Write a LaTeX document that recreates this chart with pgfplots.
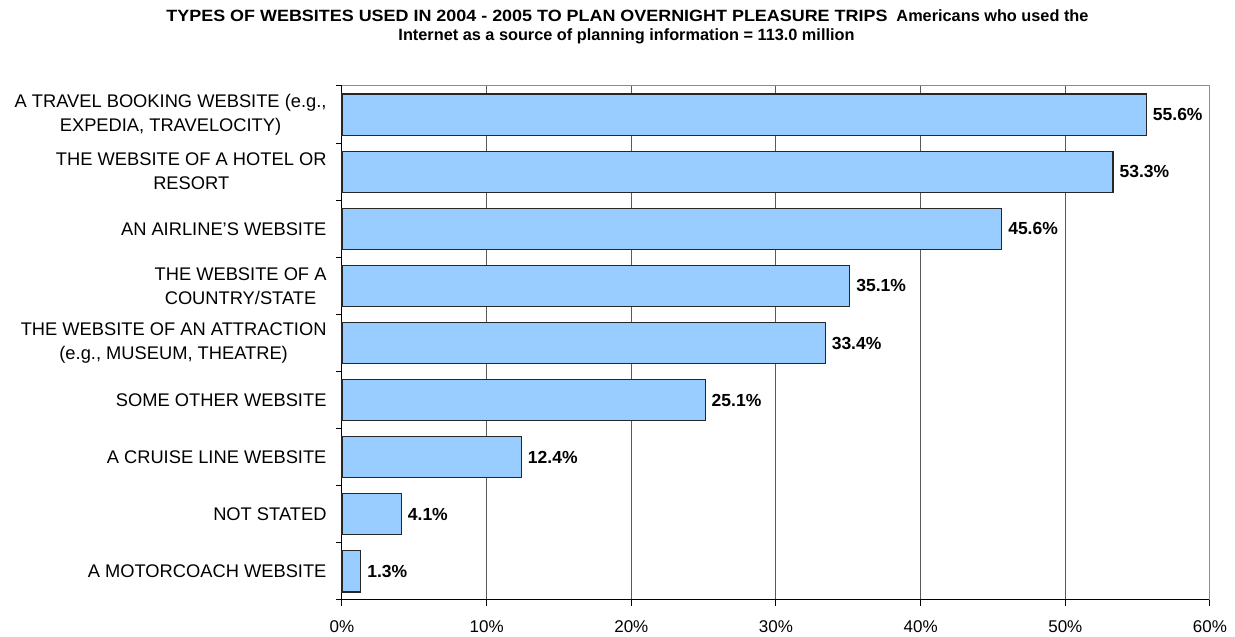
\documentclass[border=0pt]{standalone}
\usepackage{fontspec}
\setmainfont{Liberation Sans}
\newfontfamily\titlefont[FakeStretch=1.1]{Liberation Sans}
\usepackage{pgfplots}
\pgfplotsset{compat=1.18}
\definecolor{barblue}{HTML}{99CCFF}
\definecolor{gridgray}{HTML}{5A5A5A}
\definecolor{framegray}{HTML}{8C8C8C}

\begin{document}
\begin{tikzpicture}
\path[use as bounding box] (-342pt,-37pt) rectangle (893pt,600pt);
\begin{axis}[
  at={(0pt,0pt)}, anchor=south west,
  scale only axis, width=868pt, height=514pt,
  xbar, bar width=0.72,
  xmin=0, xmax=60, ymin=-0.5, ymax=8.5,
  axis lines*=left,
  axis line style={black, line width=1pt},
  xtick={0,10,...,60},
  xticklabels={0\%,10\%,20\%,30\%,40\%,50\%,60\%},
  ytick={-0.5,0.5,...,8.5},
  yticklabels={
    {A MOTORCOACH WEBSITE},
    {NOT STATED},
    {A CRUISE LINE WEBSITE},
    {SOME OTHER WEBSITE},
    {THE WEBSITE OF AN ATTRACTION\\(e.g., MUSEUM, THEATRE)},
    {THE WEBSITE OF A\\COUNTRY/STATE},
    {AN AIRLINE'S WEBSITE},
    {THE WEBSITE OF A HOTEL OR\\RESORT},
    {A TRAVEL BOOKING WEBSITE (e.g.,\\EXPEDIA, TRAVELOCITY)},
    {}},
  tick align=outside,
  major tick length=6pt,
  tick style={black, line width=1pt},
  xmajorgrids,
  grid style={gridgray, line width=1pt},
  xticklabel style={font=\fontsize{17}{20}\selectfont, yshift=-11pt},
  yticklabel style={anchor=east, align=center,
    font=\fontsize{18.3}{24}\selectfont, yshift=28.56pt, xshift=-6pt},
  /pgf/number format/assume math mode=true,
  point meta=x,
  nodes near coords={\pgfmathprintnumber[fixed,fixed zerofill,precision=1]{\pgfplotspointmeta}\%},
  every node near coord/.append style={anchor=west, inner sep=0pt, xshift=6pt,
    font=\bfseries\fontsize{17.5}{20}\selectfont, text=black},
  clip=false,
]
\addplot[fill=barblue, draw=black!85, line width=1.2pt] coordinates {
  (1.3,0) (4.1,1) (12.4,2) (25.1,3) (33.4,4)
  (35.1,5) (45.6,6) (53.3,7) (55.6,8)
};
% plot-area frame on the top and right sides
\draw[framegray, line width=1pt] (rel axis cs:0,1) -- (rel axis cs:1,1) -- (rel axis cs:1,0);
\end{axis}
\node[anchor=base] at (285.5pt,578.3pt) {\bfseries
  {\titlefont\fontsize{16.3}{18}\selectfont TYPES OF WEBSITES USED IN 2004 - 2005 TO PLAN OVERNIGHT PLEASURE TRIPS}\hspace{9pt}{\fontsize{16.3}{18}\selectfont Americans who used the}};
\node[anchor=base] at (284.5pt,559pt) {\bfseries
  \fontsize{16.3}{18}\selectfont Internet as a source of planning information = 113.0 million};
\end{tikzpicture}
\end{document}
